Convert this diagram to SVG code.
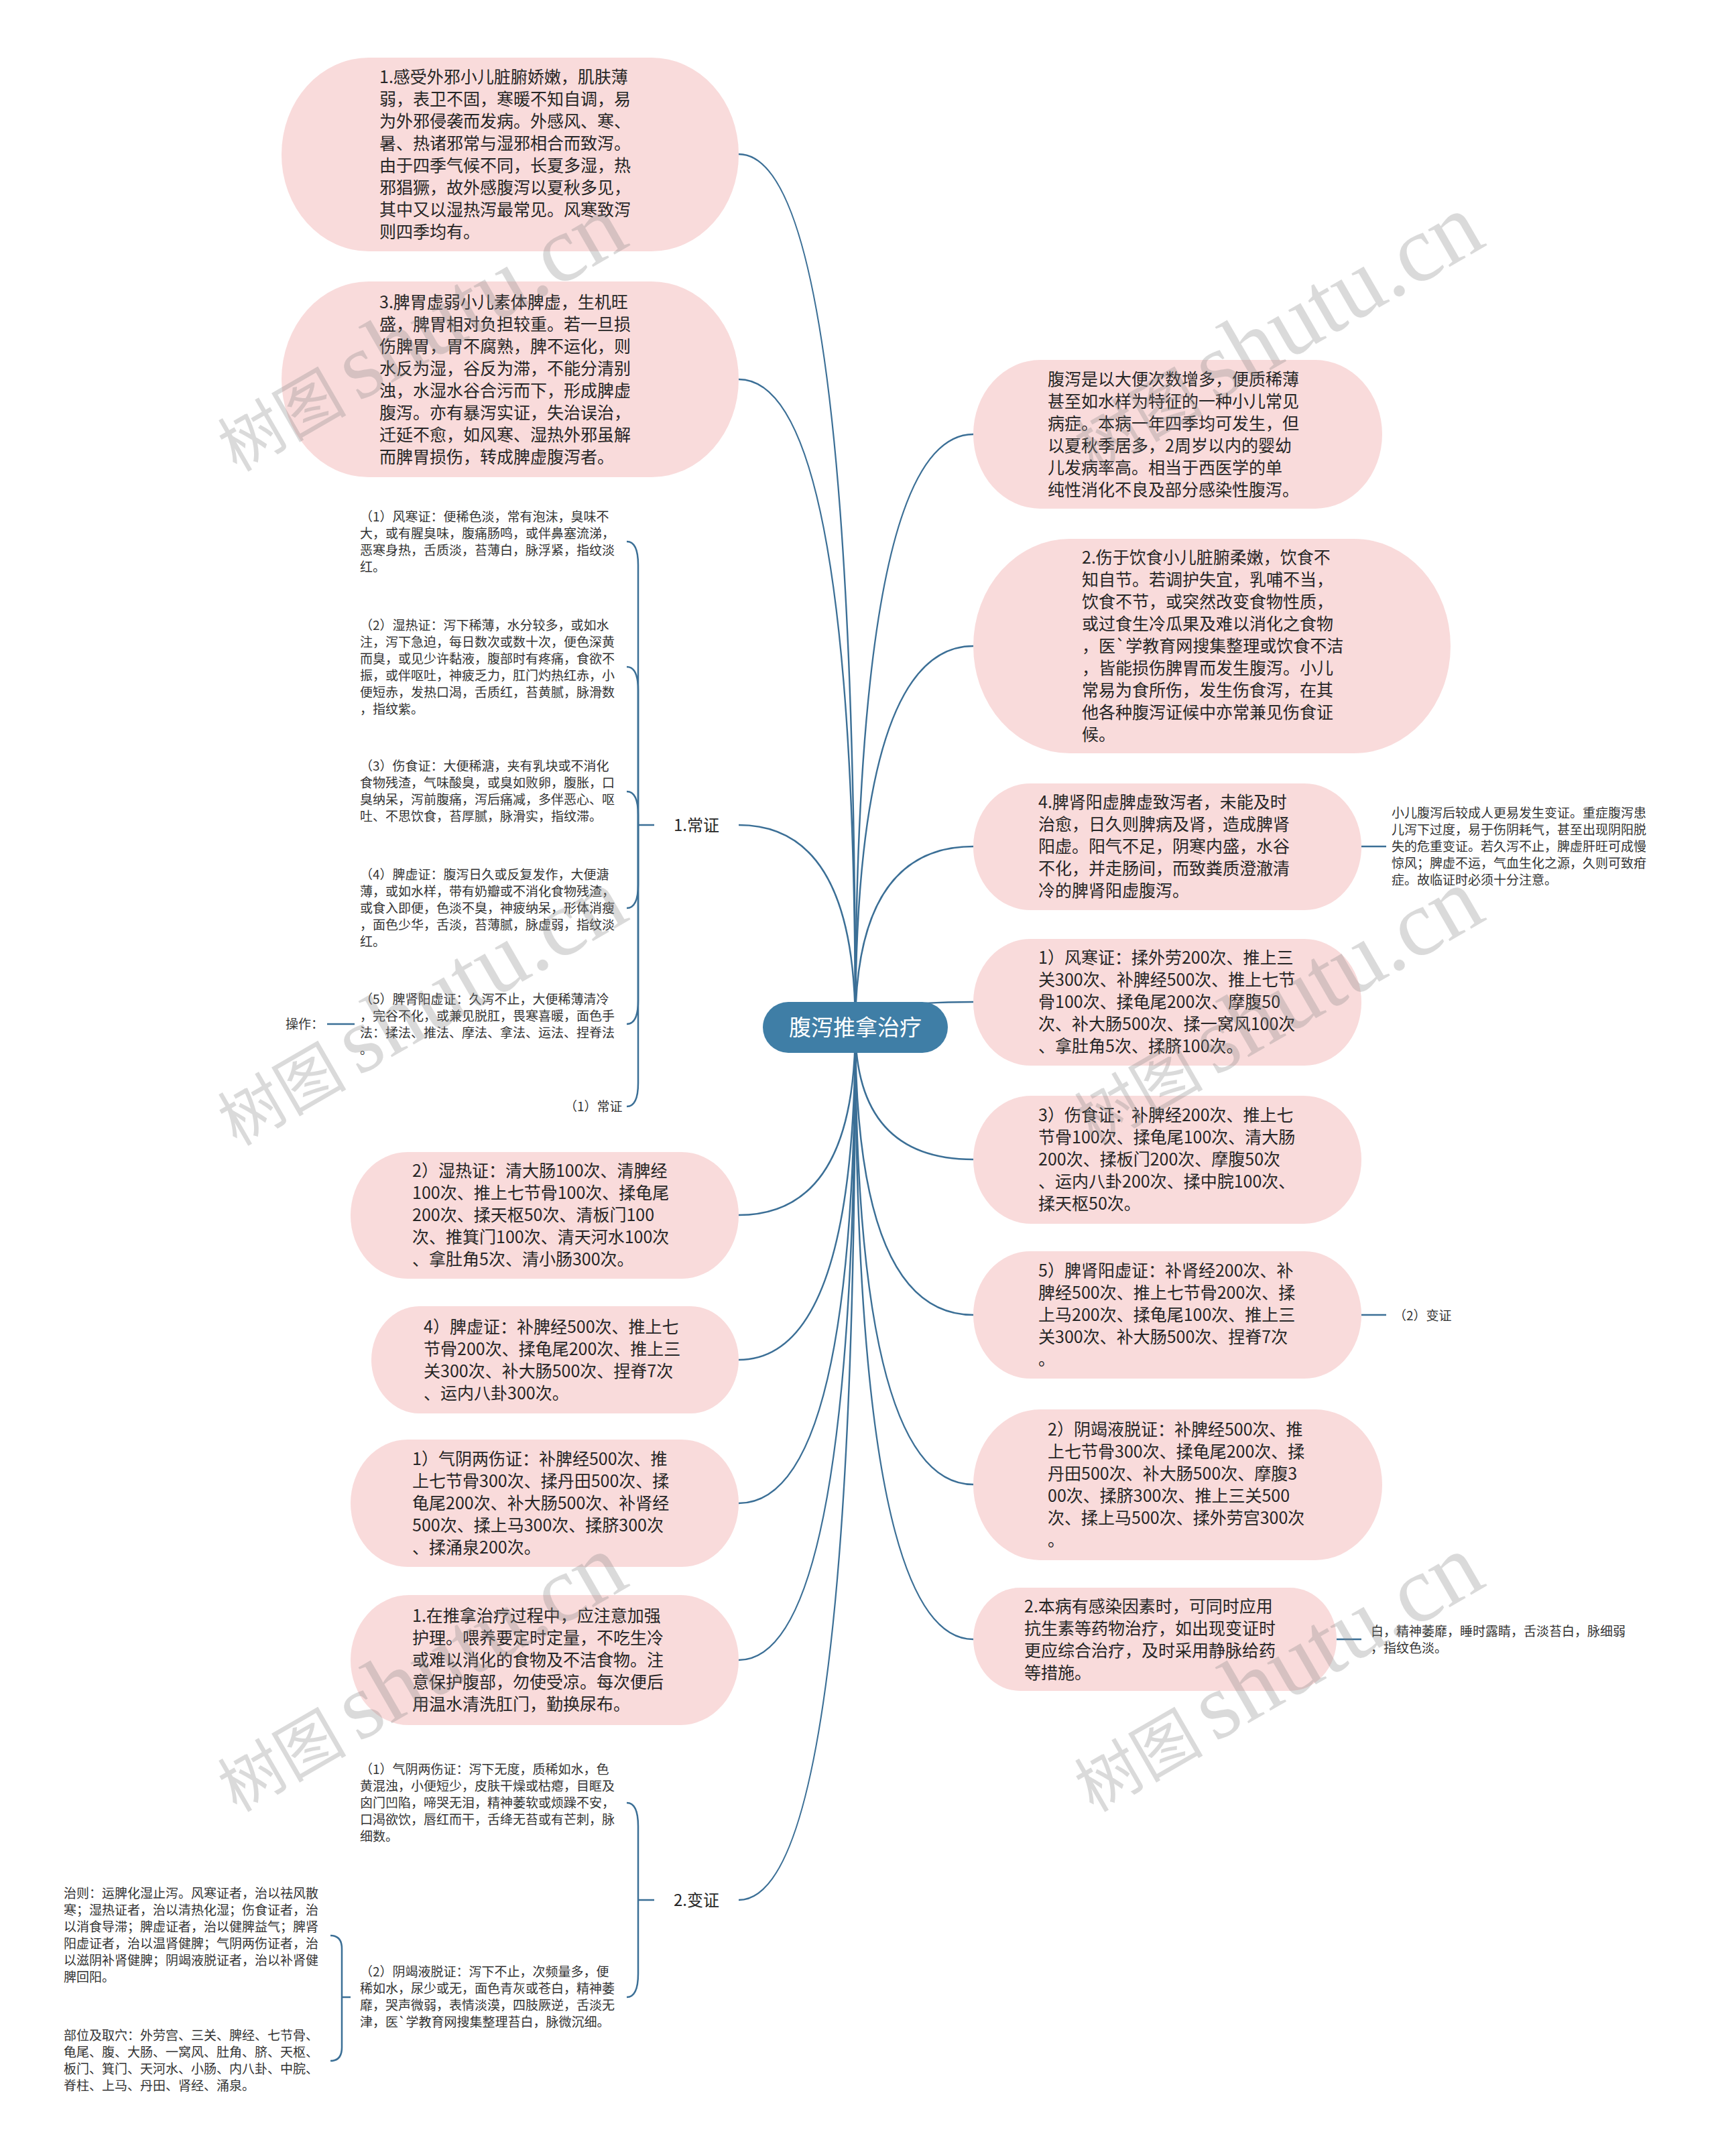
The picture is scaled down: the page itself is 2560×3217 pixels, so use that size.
<svg xmlns="http://www.w3.org/2000/svg" width="2560" height="3217" viewBox="0 0 2560 3217">
<style>
.bg{fill:#ffffff}
.n{fill:#f9dbdb}
.t{font-family:"Noto Sans CJK SC","Noto Sans",sans-serif;font-size:25px;fill:#262626}
.s{font-family:"Noto Sans CJK SC","Noto Sans",sans-serif;font-size:19px;fill:#333333}
.lb{font-family:"Noto Sans CJK SC","Noto Sans",sans-serif;font-size:24px;fill:#262626;text-anchor:middle}
.rt{font-family:"Noto Sans CJK SC","Noto Sans",sans-serif;font-size:33px;fill:#ffffff;text-anchor:middle}
.e{fill:none;stroke:#3b6f96;stroke-width:2.5}
.wmc{font-family:"Noto Sans CJK SC",sans-serif;font-size:96px;fill:#888888;opacity:0.3}
.wml{font-family:"Liberation Serif",serif;font-size:140px;fill:#888888;opacity:0.3}
</style>
<rect class="bg" x="0" y="0" width="2560" height="3217"/>
<g id="connectors">
<path class="e" d="M1276 1533 Q1276 230 1102 230"/>
<path class="e" d="M1276 1533 Q1276 566 1102 566"/>
<path class="e" d="M1276 1533 Q1276 1231 1102 1231"/>
<path class="e" d="M1276 1533 Q1276 1813 1102 1813"/>
<path class="e" d="M1276 1533 Q1276 2029 1102 2029"/>
<path class="e" d="M1276 1533 Q1276 2243 1102 2243"/>
<path class="e" d="M1276 1533 Q1276 2477 1102 2477"/>
<path class="e" d="M1276 1533 Q1276 2835 1102 2835"/>
<path class="e" d="M1276 1533 Q1276 648 1452 648"/>
<path class="e" d="M1276 1533 Q1276 964 1452 964"/>
<path class="e" d="M1276 1533 Q1276 1263 1452 1263"/>
<path class="e" d="M1276 1533 Q1276 1495 1452 1495"/>
<path class="e" d="M1276 1533 Q1276 1730 1452 1730"/>
<path class="e" d="M1276 1533 Q1276 1962 1452 1962"/>
<path class="e" d="M1276 1533 Q1276 2215 1452 2215"/>
<path class="e" d="M1276 1533 Q1276 2446 1452 2446"/>
<path class="e" d="M976 1231 L952 1231"/>
<path class="e" d="M952 1231 L952 843 Q952 808 935 808"/>
<path class="e" d="M952 1231 L952 1030 Q952 995 935 995"/>
<path class="e" d="M952 1231 L952 1216 Q952 1181 935 1181"/>
<path class="e" d="M952 1231 L952 1320 Q952 1355 935 1355"/>
<path class="e" d="M952 1231 L952 1493 Q952 1528 935 1528"/>
<path class="e" d="M952 1231 L952 1616 Q952 1651 935 1651"/>
<path class="e" d="M488 1528 L529 1528"/>
<path class="e" d="M976 2835 L952 2835"/>
<path class="e" d="M952 2835 L952 2725 Q952 2690 935 2690"/>
<path class="e" d="M952 2835 L952 2945 Q952 2980 935 2980"/>
<path class="e" d="M523 2980 L510 2980"/>
<path class="e" d="M510 2980 L510 2908 Q510 2888 493 2888"/>
<path class="e" d="M510 2980 L510 3055 Q510 3075 493 3075"/>
<path class="e" d="M2031 1263 L2068 1263"/>
<path class="e" d="M2031 1962 L2068 1962"/>
<path class="e" d="M1994 2446 L2031 2446"/>
</g>
<g id="root">
<rect x="1138" y="1495" width="276" height="76" rx="38" fill="#3f7ea6"/>
<text class="rt" x="1276" y="1545">腹泻推拿治疗</text>
</g>
<g id="nA">
<rect class="n" x="420" y="86" width="682" height="289" rx="130" ry="144"/>
<text class="t" x="566" y="123.5"><tspan x="566">1.感受外邪小儿脏腑娇嫩，肌肤薄</tspan><tspan x="566" dy="33">弱，表卫不固，寒暖不知自调，易</tspan><tspan x="566" dy="33">为外邪侵袭而发病。外感风、寒、</tspan><tspan x="566" dy="33">暑、热诸邪常与湿邪相合而致泻。</tspan><tspan x="566" dy="33">由于四季气候不同，长夏多湿，热</tspan><tspan x="566" dy="33">邪猖獗，故外感腹泻以夏秋多见，</tspan><tspan x="566" dy="33">其中又以湿热泻最常见。风寒致泻</tspan><tspan x="566" dy="33">则四季均有。</tspan></text>
</g>
<g id="nB">
<rect class="n" x="420" y="420" width="682" height="292" rx="130" ry="146"/>
<text class="t" x="566" y="459.5"><tspan x="566">3.脾胃虚弱小儿素体脾虚，生机旺</tspan><tspan x="566" dy="33">盛，脾胃相对负担较重。若一旦损</tspan><tspan x="566" dy="33">伤脾胃，胃不腐熟，脾不运化，则</tspan><tspan x="566" dy="33">水反为湿，谷反为滞，不能分清别</tspan><tspan x="566" dy="33">浊，水湿水谷合污而下，形成脾虚</tspan><tspan x="566" dy="33">腹泻。亦有暴泻实证，失治误治，</tspan><tspan x="566" dy="33">迁延不愈，如风寒、湿热外邪虽解</tspan><tspan x="566" dy="33">而脾胃损伤，转成脾虚腹泻者。</tspan></text>
</g>
<g id="nChang">
<rect x="976" y="1211" width="126" height="40" rx="6" fill="#ffffff"/>
<text class="lb" x="1039" y="1240">1.常证</text>
</g>
<g id="s1">
<text class="s" x="537" y="778"><tspan x="537">（1）风寒证：便稀色淡，常有泡沫，臭味不</tspan><tspan x="537" dy="25">大，或有腥臭味，腹痛肠鸣，或伴鼻塞流涕，</tspan><tspan x="537" dy="25">恶寒身热，舌质淡，苔薄白，脉浮紧，指纹淡</tspan><tspan x="537" dy="25">红。</tspan></text>
</g>
<g id="s2">
<text class="s" x="537" y="940"><tspan x="537">（2）湿热证：泻下稀薄，水分较多，或如水</tspan><tspan x="537" dy="25">注，泻下急迫，每日数次或数十次，便色深黄</tspan><tspan x="537" dy="25">而臭，或见少许黏液，腹部时有疼痛，食欲不</tspan><tspan x="537" dy="25">振，或伴呕吐，神疲乏力，肛门灼热红赤，小</tspan><tspan x="537" dy="25">便短赤，发热口渴，舌质红，苔黄腻，脉滑数</tspan><tspan x="537" dy="25">，指纹紫。</tspan></text>
</g>
<g id="s3">
<text class="s" x="537" y="1150"><tspan x="537">（3）伤食证：大便稀溏，夹有乳块或不消化</tspan><tspan x="537" dy="25">食物残渣，气味酸臭，或臭如败卵，腹胀，口</tspan><tspan x="537" dy="25">臭纳呆，泻前腹痛，泻后痛减，多伴恶心、呕</tspan><tspan x="537" dy="25">吐、不思饮食，苔厚腻，脉滑实，指纹滞。</tspan></text>
</g>
<g id="s4">
<text class="s" x="537" y="1312"><tspan x="537">（4）脾虚证：腹泻日久或反复发作，大便溏</tspan><tspan x="537" dy="25">薄，或如水样，带有奶瓣或不消化食物残渣，</tspan><tspan x="537" dy="25">或食入即便，色淡不臭，神疲纳呆，形体消瘦</tspan><tspan x="537" dy="25">，面色少华，舌淡，苔薄腻，脉虚弱，指纹淡</tspan><tspan x="537" dy="25">红。</tspan></text>
</g>
<g id="s5">
<text class="s" x="537" y="1498"><tspan x="537">（5）脾肾阳虚证：久泻不止，大便稀薄清冷</tspan><tspan x="537" dy="25">，完谷不化，或兼见脱肛，畏寒喜暖，面色手</tspan><tspan x="537" dy="25">法：揉法、推法、摩法、拿法、运法、捏脊法</tspan><tspan x="537" dy="25">。</tspan></text>
</g>
<g id="s5op">
<text class="s" x="426" y="1535">操作：</text>
</g>
<g id="s6">
<text class="s" x="842" y="1658">（1）常证</text>
</g>
<g id="nC">
<rect class="n" x="523" y="1719" width="579" height="189" rx="85" ry="94"/>
<text class="t" x="615" y="1756"><tspan x="615">2）湿热证：清大肠100次、清脾经</tspan><tspan x="615" dy="33">100次、推上七节骨100次、揉龟尾</tspan><tspan x="615" dy="33">200次、揉天枢50次、清板门100</tspan><tspan x="615" dy="33">次、推箕门100次、清天河水100次</tspan><tspan x="615" dy="33">、拿肚角5次、清小肠300次。</tspan></text>
</g>
<g id="nD">
<rect class="n" x="554" y="1949" width="548" height="160" rx="72" ry="80"/>
<text class="t" x="632" y="1988.5"><tspan x="632">4）脾虚证：补脾经500次、推上七</tspan><tspan x="632" dy="33">节骨200次、揉龟尾200次、推上三</tspan><tspan x="632" dy="33">关300次、补大肠500次、捏脊7次</tspan><tspan x="632" dy="33">、运内八卦300次。</tspan></text>
</g>
<g id="nE">
<rect class="n" x="523" y="2148" width="579" height="190" rx="85" ry="95"/>
<text class="t" x="615" y="2186"><tspan x="615">1）气阴两伤证：补脾经500次、推</tspan><tspan x="615" dy="33">上七节骨300次、揉丹田500次、揉</tspan><tspan x="615" dy="33">龟尾200次、补大肠500次、补肾经</tspan><tspan x="615" dy="33">500次、揉上马300次、揉脐300次</tspan><tspan x="615" dy="33">、揉涌泉200次。</tspan></text>
</g>
<g id="nF">
<rect class="n" x="523" y="2380" width="579" height="194" rx="87" ry="97"/>
<text class="t" x="615" y="2420"><tspan x="615">1.在推拿治疗过程中，应注意加强</tspan><tspan x="615" dy="33">护理。喂养要定时定量，不吃生冷</tspan><tspan x="615" dy="33">或难以消化的食物及不洁食物。注</tspan><tspan x="615" dy="33">意保护腹部，勿使受凉。每次便后</tspan><tspan x="615" dy="33">用温水清洗肛门，勤换尿布。</tspan></text>
</g>
<g id="nBian">
<rect x="976" y="2815" width="126" height="40" rx="6" fill="#ffffff"/>
<text class="lb" x="1039" y="2844">2.变证</text>
</g>
<g id="s7">
<text class="s" x="537" y="2647"><tspan x="537">（1）气阴两伤证：泻下无度，质稀如水，色</tspan><tspan x="537" dy="25">黄混浊，小便短少，皮肤干燥或枯瘪，目眶及</tspan><tspan x="537" dy="25">囟门凹陷，啼哭无泪，精神萎软或烦躁不安，</tspan><tspan x="537" dy="25">口渴欲饮，唇红而干，舌绛无苔或有芒刺，脉</tspan><tspan x="537" dy="25">细数。</tspan></text>
</g>
<g id="s8">
<text class="s" x="537" y="2949"><tspan x="537">（2）阴竭液脱证：泻下不止，次频量多，便</tspan><tspan x="537" dy="25">稀如水，尿少或无，面色青灰或苍白，精神萎</tspan><tspan x="537" dy="25">靡，哭声微弱，表情淡漠，四肢厥逆，舌淡无</tspan><tspan x="537" dy="25">津，医`学教育网搜集整理苔白，脉微沉细。</tspan></text>
</g>
<g id="s9">
<text class="s" x="95" y="2832"><tspan x="95">治则：运脾化湿止泻。风寒证者，治以祛风散</tspan><tspan x="95" dy="25">寒；湿热证者，治以清热化湿；伤食证者，治</tspan><tspan x="95" dy="25">以消食导滞；脾虚证者，治以健脾益气；脾肾</tspan><tspan x="95" dy="25">阳虚证者，治以温肾健脾；气阴两伤证者，治</tspan><tspan x="95" dy="25">以滋阴补肾健脾；阴竭液脱证者，治以补肾健</tspan><tspan x="95" dy="25">脾回阳。</tspan></text>
</g>
<g id="s10">
<text class="s" x="95" y="3044"><tspan x="95">部位及取穴：外劳宫、三关、脾经、七节骨、</tspan><tspan x="95" dy="25">龟尾、腹、大肠、一窝风、肚角、脐、天枢、</tspan><tspan x="95" dy="25">板门、箕门、天河水、小肠、内八卦、中脘、</tspan><tspan x="95" dy="25">脊柱、上马、丹田、肾经、涌泉。</tspan></text>
</g>
<g id="nG">
<rect class="n" x="1452" y="537" width="610" height="222" rx="100" ry="111"/>
<text class="t" x="1563" y="574.5"><tspan x="1563">腹泻是以大便次数增多，便质稀薄</tspan><tspan x="1563" dy="33">甚至如水样为特征的一种小儿常见</tspan><tspan x="1563" dy="33">病症。本病一年四季均可发生，但</tspan><tspan x="1563" dy="33">以夏秋季居多，2周岁以内的婴幼</tspan><tspan x="1563" dy="33">儿发病率高。相当于西医学的单</tspan><tspan x="1563" dy="33">纯性消化不良及部分感染性腹泻。</tspan></text>
</g>
<g id="nH">
<rect class="n" x="1452" y="804" width="712" height="320" rx="144" ry="160"/>
<text class="t" x="1614" y="841"><tspan x="1614">2.伤于饮食小儿脏腑柔嫩，饮食不</tspan><tspan x="1614" dy="33">知自节。若调护失宜，乳哺不当，</tspan><tspan x="1614" dy="33">饮食不节，或突然改变食物性质，</tspan><tspan x="1614" dy="33">或过食生冷瓜果及难以消化之食物</tspan><tspan x="1614" dy="33">，医`学教育网搜集整理或饮食不洁</tspan><tspan x="1614" dy="33">，皆能损伤脾胃而发生腹泻。小儿</tspan><tspan x="1614" dy="33">常易为食所伤，发生伤食泻，在其</tspan><tspan x="1614" dy="33">他各种腹泻证候中亦常兼见伤食证</tspan><tspan x="1614" dy="33">候。</tspan></text>
</g>
<g id="nI">
<rect class="n" x="1452" y="1169" width="579" height="189" rx="85" ry="94"/>
<text class="t" x="1549" y="1206"><tspan x="1549">4.脾肾阳虚脾虚致泻者，未能及时</tspan><tspan x="1549" dy="33">治愈，日久则脾病及肾，造成脾肾</tspan><tspan x="1549" dy="33">阳虚。阳气不足，阴寒内盛，水谷</tspan><tspan x="1549" dy="33">不化，并走肠间，而致粪质澄澈清</tspan><tspan x="1549" dy="33">冷的脾肾阳虚腹泻。</tspan></text>
</g>
<g id="r1">
<text class="s" x="2076" y="1220"><tspan x="2076">小儿腹泻后较成人更易发生变证。重症腹泻患</tspan><tspan x="2076" dy="25">儿泻下过度，易于伤阴耗气，甚至出现阴阳脱</tspan><tspan x="2076" dy="25">失的危重变证。若久泻不止，脾虚肝旺可成慢</tspan><tspan x="2076" dy="25">惊风；脾虚不运，气血生化之源，久则可致疳</tspan><tspan x="2076" dy="25">症。故临证时必须十分注意。</tspan></text>
</g>
<g id="nJ">
<rect class="n" x="1452" y="1401" width="579" height="189" rx="85" ry="94"/>
<text class="t" x="1549" y="1438"><tspan x="1549">1）风寒证：揉外劳200次、推上三</tspan><tspan x="1549" dy="33">关300次、补脾经500次、推上七节</tspan><tspan x="1549" dy="33">骨100次、揉龟尾200次、摩腹50</tspan><tspan x="1549" dy="33">次、补大肠500次、揉一窝风100次</tspan><tspan x="1549" dy="33">、拿肚角5次、揉脐100次。</tspan></text>
</g>
<g id="nK">
<rect class="n" x="1452" y="1635" width="579" height="191" rx="86" ry="95"/>
<text class="t" x="1549" y="1673"><tspan x="1549">3）伤食证：补脾经200次、推上七</tspan><tspan x="1549" dy="33">节骨100次、揉龟尾100次、清大肠</tspan><tspan x="1549" dy="33">200次、揉板门200次、摩腹50次</tspan><tspan x="1549" dy="33">、运内八卦200次、揉中脘100次、</tspan><tspan x="1549" dy="33">揉天枢50次。</tspan></text>
</g>
<g id="nL">
<rect class="n" x="1452" y="1867" width="579" height="190" rx="85" ry="95"/>
<text class="t" x="1549" y="1905"><tspan x="1549">5）脾肾阳虚证：补肾经200次、补</tspan><tspan x="1549" dy="33">脾经500次、推上七节骨200次、揉</tspan><tspan x="1549" dy="33">上马200次、揉龟尾100次、推上三</tspan><tspan x="1549" dy="33">关300次、补大肠500次、捏脊7次</tspan><tspan x="1549" dy="33">。</tspan></text>
</g>
<g id="r2">
<text class="s" x="2079" y="1970">（2）变证</text>
</g>
<g id="nM">
<rect class="n" x="1452" y="2103" width="610" height="225" rx="100" ry="112"/>
<text class="t" x="1563" y="2141.5"><tspan x="1563">2）阴竭液脱证：补脾经500次、推</tspan><tspan x="1563" dy="33">上七节骨300次、揉龟尾200次、揉</tspan><tspan x="1563" dy="33">丹田500次、补大肠500次、摩腹3</tspan><tspan x="1563" dy="33">00次、揉脐300次、推上三关500</tspan><tspan x="1563" dy="33">次、揉上马500次、揉外劳宫300次</tspan><tspan x="1563" dy="33">。</tspan></text>
</g>
<g id="nN">
<rect class="n" x="1452" y="2369" width="542" height="154" rx="70" ry="77"/>
<text class="t" x="1528" y="2405.5"><tspan x="1528">2.本病有感染因素时，可同时应用</tspan><tspan x="1528" dy="33">抗生素等药物治疗，如出现变证时</tspan><tspan x="1528" dy="33">更应综合治疗，及时采用静脉给药</tspan><tspan x="1528" dy="33">等措施。</tspan></text>
</g>
<g id="r3">
<text class="s" x="2045" y="2440.5"><tspan x="2045">白，精神萎靡，睡时露睛，舌淡苔白，脉细弱</tspan><tspan x="2045" dy="25">，指纹色淡。</tspan></text>
</g>
<g id="watermarks">
<g transform="translate(353,705) rotate(-30)"><text class="wmc" x="0" y="0">树图</text><text class="wml" x="210" y="0">shutu.cn</text></g>
<g transform="translate(353,1711) rotate(-30)"><text class="wmc" x="0" y="0">树图</text><text class="wml" x="210" y="0">shutu.cn</text></g>
<g transform="translate(353,2705) rotate(-30)"><text class="wmc" x="0" y="0">树图</text><text class="wml" x="210" y="0">shutu.cn</text></g>
<g transform="translate(1631,705) rotate(-30)"><text class="wmc" x="0" y="0">树图</text><text class="wml" x="210" y="0">shutu.cn</text></g>
<g transform="translate(1631,1711) rotate(-30)"><text class="wmc" x="0" y="0">树图</text><text class="wml" x="210" y="0">shutu.cn</text></g>
<g transform="translate(1631,2705) rotate(-30)"><text class="wmc" x="0" y="0">树图</text><text class="wml" x="210" y="0">shutu.cn</text></g>
</g>
</svg>
